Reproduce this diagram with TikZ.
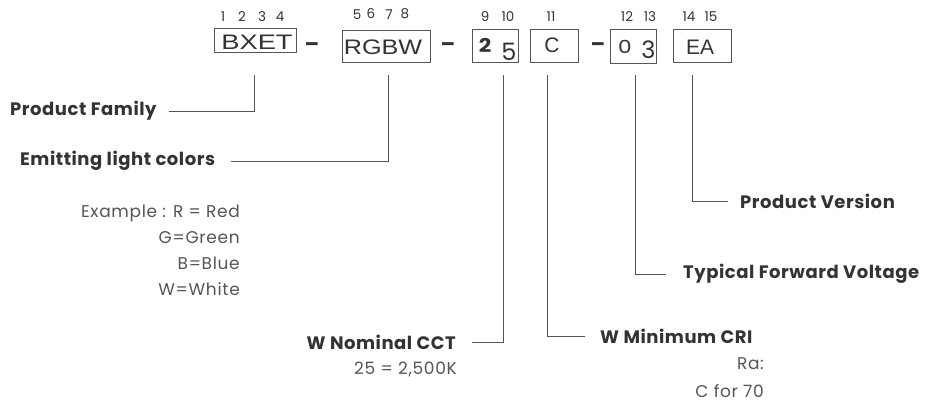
\documentclass[tikz,border=0pt]{standalone}
\usepackage{fontspec}
\setmainfont{Poppins}
\newfontfamily\boxfont{Liberation Sans}
\definecolor{txt}{HTML}{333333}
\definecolor{lite}{HTML}{555555}
\definecolor{ln}{HTML}{555555}
\tikzset{
  codebox/.style={draw=ln, line width=0.9pt, inner sep=0pt},
  boxtxt/.style={inner sep=0pt, anchor=base, text=txt, font=\boxfont\fontsize{21}{24}\selectfont},
  oldfig/.style={inner sep=0pt, anchor=base, text=txt},
  digit/.style={inner sep=0pt, text=txt, font=\fontsize{13.5}{15}\selectfont},
  lbl/.style={inner sep=0pt, text=txt, font=\fontsize{18}{21}\selectfont\bfseries\addfontfeatures{LetterSpace=3}},
  note/.style={inner sep=0pt, text=lite, font=\fontsize{17}{26}\selectfont\addfontfeatures{LetterSpace=4}, align=right},
  conn/.style={draw=ln, line width=0.9pt},
  dashmark/.style={inner sep=0pt, text=txt, font=\fontsize{21}{24}\selectfont\bfseries}
}
\begin{document}
\begin{tikzpicture}[x=1pt,y=-1pt]
\useasboundingbox (0,0) rectangle (928,405);
% code boxes
\node[codebox, minimum width=82pt, minimum height=24pt] (bxet) at (255,40) {};
\node[boxtxt] (bxett) at (257,49) {\scalebox{1.3}[1]{BXET}};
\node[dashmark] (d1) at (312,47) {–};
\node[codebox, minimum width=88pt, minimum height=32pt] (rgbw) at (386,46) {};
\node[boxtxt] (rgbwt) at (383,54.5) {\scalebox{1.2}[1]{RGBW}};
\node[dashmark] (d2) at (448,47) {–};
\node[codebox, minimum width=46pt, minimum height=33pt] (n25) at (495,45.5) {};
\node[oldfig, font=\fontsize{19}{21}\selectfont\bfseries] (n2) at (485,52) {\scalebox{1.15}[1]{2}};
\node[oldfig, font=\fontsize{24}{26}\selectfont] (n5) at (509,60) {5};
\node[codebox, minimum width=48pt, minimum height=33pt] (c) at (554,45.5) {};
\node[boxtxt] (ct) at (552,52.5) {C};
\node[dashmark] (d3) at (598,47) {–};
\node[codebox, minimum width=46pt, minimum height=34pt] (n03) at (633,46) {};
\node[oldfig, font=\fontsize{18}{20}\selectfont] (n0) at (625,53.5) {\scalebox{1.2}[1]{0}};
\node[oldfig, font=\fontsize{24}{26}\selectfont] (n3) at (648.5,58) {3};
\node[codebox, minimum width=58pt, minimum height=33pt] (ea) at (702,45.5) {};
\node[boxtxt] (eat) at (700,54) {EA};
% position digits
\node[digit] (p1) at (223,17) {1};
\node[digit] (p2) at (242,17) {2};
\node[digit] (p3) at (262,17) {3};
\node[digit] (p4) at (280,17) {4};
\node[digit] (p5) at (357,15) {5};
\node[digit] (p6) at (371,14) {6};
\node[digit] (p7) at (389,15) {7};
\node[digit] (p8) at (405,14) {8};
\node[digit] (p9) at (485,17) {9};
\node[digit] (p10) at (508,17) {10};
\node[digit] (p11) at (551,17) {11};
\node[digit] (p12) at (627,17) {12};
\node[digit] (p13) at (650,17) {13};
\node[digit] (p14) at (689,17) {14};
\node[digit] (p15) at (711,17) {15};
% labels
\node[lbl, anchor=west] (pf) at (10,111) {Product Family};
\node[lbl, anchor=west] (elc) at (20,161) {Emitting light colors};
\node[note, anchor=north east] (ex) at (240,205) {Example : R = Red\\G=Green\\B=Blue\\W=White};
\node[lbl, anchor=east] (cct) at (456,342) {W Nominal CCT};
\node[note, anchor=north east] (cctn) at (457,362) {25 = 2,500K};
\node[lbl, anchor=west] (cri) at (600,336) {W Minimum CRI};
\node[note, anchor=north east, font=\fontsize{17}{28}\selectfont\addfontfeatures{LetterSpace=4}] (crin) at (764,357) {Ra:\\C for 70};
\node[lbl, anchor=west] (tfv) at (683,274) {Typical Forward Voltage};
\node[lbl, anchor=west] (pv) at (740,201) {Product Version};
% connector tops
\coordinate (t1) at (254,75);
\coordinate (t2) at (388,75);
\coordinate (t3) at (503,75);
\coordinate (t4) at (547,75);
\coordinate (t5) at (635,75);
\coordinate (t6) at (692,75);
% connectors
\draw[conn] ([xshift=12pt]pf.east) -| (t1);
\draw[conn] ([xshift=16pt]elc.east) -| (t2);
\draw[conn] ([xshift=16pt]cct.east) -| (t3);
\draw[conn] (t4) |- ([xshift=-15pt]cri.west);
\draw[conn] (t5) |- ([xshift=-17pt]tfv.west);
\draw[conn] (t6) |- ([xshift=-12pt]pv.west);
\end{tikzpicture}
\end{document}
